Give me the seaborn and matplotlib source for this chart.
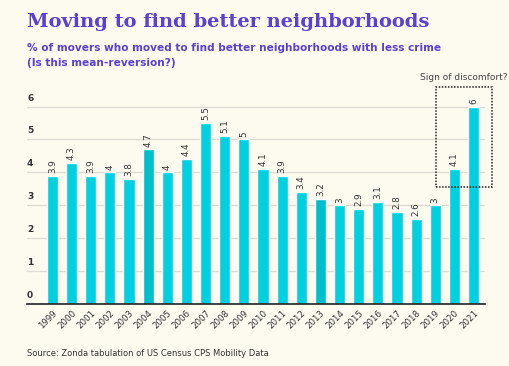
import pandas as pd
import seaborn as sns
import matplotlib.pyplot as plt
from matplotlib.patches import Rectangle

years = [str(y) for y in range(1999, 2022)]
share = [3.9, 4.3, 3.9, 4, 3.8, 4.7, 4, 4.4, 5.5, 5.1, 5, 4.1, 3.9, 3.4, 3.2,
         3, 2.9, 3.1, 2.8, 2.6, 3, 4.1, 6]
labels = ["3.9", "4.3", "3.9", "4", "3.8", "4.7", "4", "4.4", "5.5", "5.1", "5",
          "4.1", "3.9", "3.4", "3.2", "3", "2.9", "3.1", "2.8", "2.6", "3", "4.1", "6"]
yticks = [0, 1, 2, 3, 4, 5, 6]

bg = "#fdfaef"
cyan = "#00d0df"
cyan_dark = "#00bfcc"
purple = "#5b40d2"

df = pd.DataFrame({"year": years, "share": share})
colors = {y: (cyan_dark if y in ("2004", "2013") else cyan) for y in years}

sns.set_theme(style="white")
plt.rcParams["font.family"] = ["DejaVu Sans"]

fig = plt.figure(figsize=(5.1, 3.66), dpi=100, facecolor=bg)
ax = fig.add_axes([0.053, 0.169, 0.898, 0.603], facecolor=bg)

sns.barplot(data=df, x="year", y="share", hue="year", palette=colors,
            width=0.58, legend=False, ax=ax, saturation=1)

# one container per bar (hue = year), label each with its value
for i, c in enumerate(ax.containers):
    ax.bar_label(c, labels=[labels[i]], rotation=90, padding=2, fontsize=6.3,
                 color="#333333")

ax.set_ylim(0, 6.7)
ax.set_xlim(-1.33, 22.6)
ax.set_yticks(yticks)
ax.yaxis.grid(True, color="#dcdad2", linewidth=0.9)
ax.set_axisbelow(True)
ax.tick_params(axis="y", length=0, labelleft=False)
for v in yticks:
    ax.text(0.0, v + 0.12, str(v), transform=ax.get_yaxis_transform(),
            ha="left", va="bottom", fontsize=6.5, color="#333333",
            fontweight="bold")

ax.tick_params(axis="x", length=0, pad=3)
plt.setp(ax.get_xticklabels(), rotation=45, ha="right", rotation_mode="anchor",
         fontsize=6.2, color="#333333")
ax.set_xlabel("")
ax.set_ylabel("")
for s in ["top", "right", "left"]:
    ax.spines[s].set_visible(False)
ax.spines["bottom"].set_color("#222222")
ax.spines["bottom"].set_linewidth(1.2)

box = Rectangle((20.04, 3.55), 2.92, 3.05, fill=False, linestyle=(0, (1, 1)),
                linewidth=1.1, edgecolor="#222222", clip_on=False)
ax.add_patch(box)
ax.text(21.5, 6.75, "Sign of discomfort?", ha="center", va="bottom",
        fontsize=6.5, color="#444444")

fig.text(0.053, 0.94, "Moving to find better neighborhoods", fontsize=14,
         fontweight="bold", family="DejaVu Serif", color=purple, va="center")
fig.text(0.053, 0.87, "% of movers who moved to find better neighborhoods with less crime",
         fontsize=7.6, fontweight="bold", color=purple, va="center")
fig.text(0.053, 0.827, "(Is this mean-reversion?)",
         fontsize=7.6, fontweight="bold", color=purple, va="center")
fig.text(0.053, 0.035, "Source: Zonda tabulation of US Census CPS Mobility Data",
         fontsize=6, color="#333333", va="center")

fig.savefig("out.png", dpi=100, facecolor=bg)
